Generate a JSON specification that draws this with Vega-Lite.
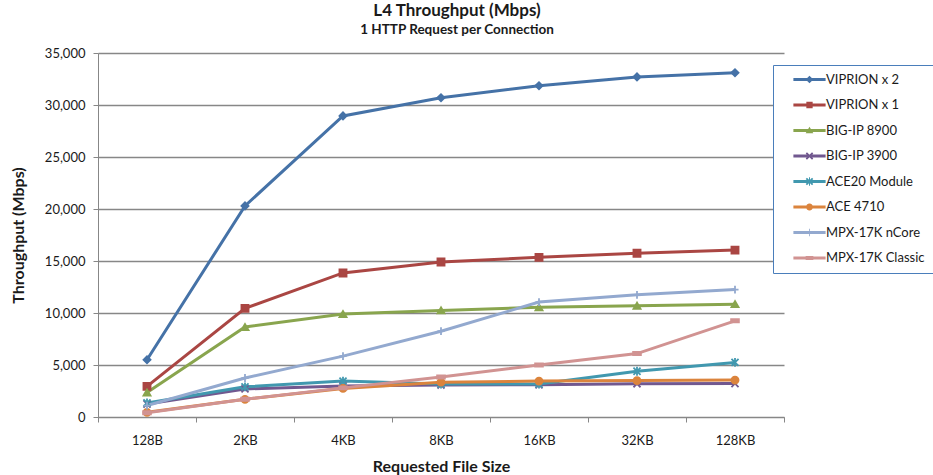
{
  "$schema": "https://vega.github.io/schema/vega-lite/v6.json",
  "autosize": {"type": "none"},
  "padding": {"left": 98, "top": 53, "right": 149, "bottom": 58},
  "width": 686,
  "height": 364,
  "background": "white",
  "title": {
    "text": "L4 Throughput (Mbps)",
    "subtitle": "1 HTTP Request per Connection",
    "anchor": "middle",
    "dx": 16,
    "offset": 10,
    "font": "Lato",
    "fontSize": 17,
    "fontWeight": "bold",
    "color": "#1a1a1a",
    "subtitleFont": "Lato",
    "subtitleFontSize": 13.5,
    "subtitleFontWeight": "bold",
    "subtitleColor": "#1a1a1a",
    "subtitlePadding": 3
  },
  "data": {
    "values": [
      {"series": "VIPRION x 2", "size": "128B", "value": 5500},
      {"series": "VIPRION x 2", "size": "2KB", "value": 20300},
      {"series": "VIPRION x 2", "size": "4KB", "value": 28950},
      {"series": "VIPRION x 2", "size": "8KB", "value": 30700},
      {"series": "VIPRION x 2", "size": "16KB", "value": 31850},
      {"series": "VIPRION x 2", "size": "32KB", "value": 32700},
      {"series": "VIPRION x 2", "size": "128KB", "value": 33100},
      {"series": "VIPRION x 1", "size": "128B", "value": 2950},
      {"series": "VIPRION x 1", "size": "2KB", "value": 10450},
      {"series": "VIPRION x 1", "size": "4KB", "value": 13850},
      {"series": "VIPRION x 1", "size": "8KB", "value": 14900},
      {"series": "VIPRION x 1", "size": "16KB", "value": 15350},
      {"series": "VIPRION x 1", "size": "32KB", "value": 15750},
      {"series": "VIPRION x 1", "size": "128KB", "value": 16050},
      {"series": "BIG-IP 8900", "size": "128B", "value": 2350},
      {"series": "BIG-IP 8900", "size": "2KB", "value": 8650},
      {"series": "BIG-IP 8900", "size": "4KB", "value": 9900},
      {"series": "BIG-IP 8900", "size": "8KB", "value": 10250},
      {"series": "BIG-IP 8900", "size": "16KB", "value": 10550},
      {"series": "BIG-IP 8900", "size": "32KB", "value": 10700},
      {"series": "BIG-IP 8900", "size": "128KB", "value": 10850},
      {"series": "BIG-IP 3900", "size": "128B", "value": 1250},
      {"series": "BIG-IP 3900", "size": "2KB", "value": 2700},
      {"series": "BIG-IP 3900", "size": "4KB", "value": 2980},
      {"series": "BIG-IP 3900", "size": "8KB", "value": 3080},
      {"series": "BIG-IP 3900", "size": "16KB", "value": 3100},
      {"series": "BIG-IP 3900", "size": "32KB", "value": 3200},
      {"series": "BIG-IP 3900", "size": "128KB", "value": 3220},
      {"series": "ACE20 Module", "size": "128B", "value": 1350},
      {"series": "ACE20 Module", "size": "2KB", "value": 2900},
      {"series": "ACE20 Module", "size": "4KB", "value": 3450},
      {"series": "ACE20 Module", "size": "8KB", "value": 3170},
      {"series": "ACE20 Module", "size": "16KB", "value": 3170},
      {"series": "ACE20 Module", "size": "32KB", "value": 4400},
      {"series": "ACE20 Module", "size": "128KB", "value": 5250},
      {"series": "ACE 4710", "size": "128B", "value": 450},
      {"series": "ACE 4710", "size": "2KB", "value": 1700},
      {"series": "ACE 4710", "size": "4KB", "value": 2750},
      {"series": "ACE 4710", "size": "8KB", "value": 3350},
      {"series": "ACE 4710", "size": "16KB", "value": 3450},
      {"series": "ACE 4710", "size": "32KB", "value": 3500},
      {"series": "ACE 4710", "size": "128KB", "value": 3550},
      {"series": "MPX-17K nCore", "size": "128B", "value": 1100},
      {"series": "MPX-17K nCore", "size": "2KB", "value": 3750},
      {"series": "MPX-17K nCore", "size": "4KB", "value": 5850},
      {"series": "MPX-17K nCore", "size": "8KB", "value": 8250},
      {"series": "MPX-17K nCore", "size": "16KB", "value": 11050},
      {"series": "MPX-17K nCore", "size": "32KB", "value": 11750},
      {"series": "MPX-17K nCore", "size": "128KB", "value": 12250},
      {"series": "MPX-17K Classic", "size": "128B", "value": 400},
      {"series": "MPX-17K Classic", "size": "2KB", "value": 1700},
      {"series": "MPX-17K Classic", "size": "4KB", "value": 2800},
      {"series": "MPX-17K Classic", "size": "8KB", "value": 3850},
      {"series": "MPX-17K Classic", "size": "16KB", "value": 5000},
      {"series": "MPX-17K Classic", "size": "32KB", "value": 6100},
      {"series": "MPX-17K Classic", "size": "128KB", "value": 9250}
    ]
  },
  "encoding": {
    "x": {
      "field": "size",
      "type": "ordinal",
      "bandPosition": 0.5,
      "sort": ["128B", "2KB", "4KB", "8KB", "16KB", "32KB", "128KB"],
      "scale": {"type": "band", "paddingInner": 0, "paddingOuter": 0},
      "axis": {
        "title": "Requested File Size",
        "labelAngle": 0,
        "tickBand": "extent",
        "tickSize": 5,
        "labelPadding": 12,
        "titlePadding": 11,
        "domainColor": "#878787",
        "tickColor": "#878787",
        "grid": false
      }
    },
    "y": {
      "field": "value",
      "type": "quantitative",
      "scale": {"domain": [0, 35000], "nice": false},
      "axis": {
        "title": "Throughput (Mbps)",
        "values": [0, 5000, 10000, 15000, 20000, 25000, 30000, 35000],
        "format": ",d",
        "tickSize": 5,
        "labelPadding": 8,
        "titlePadding": 18,
        "grid": true,
        "gridColor": "#878787",
        "gridWidth": 1.3,
        "domainColor": "#878787",
        "tickColor": "#878787"
      }
    }
  },
  "layer": [
    {
      "mark": {"type": "line", "strokeWidth": 3},
      "encoding": {
        "stroke": {
          "field": "series",
          "type": "nominal",
          "scale": {
            "domain": ["VIPRION x 2", "VIPRION x 1", "BIG-IP 8900", "BIG-IP 3900", "ACE20 Module", "ACE 4710", "MPX-17K nCore", "MPX-17K Classic"],
            "range": ["#4572A7", "#AA4643", "#89A54E", "#71588F", "#4198AF", "#DB843D", "#93A9CF", "#D19392"]
          },
          "legend": null
        }
      }
    },
    {
      "mark": {"type": "point", "filled": true, "size": 50, "strokeWidth": 1.8, "opacity": 1},
      "encoding": {
        "fill": {
          "field": "series",
          "type": "nominal",
          "scale": {
            "domain": ["VIPRION x 2", "VIPRION x 1", "BIG-IP 8900", "BIG-IP 3900", "ACE20 Module", "ACE 4710", "MPX-17K nCore", "MPX-17K Classic"],
            "range": ["#4572A7", "#AA4643", "#89A54E", "#71588F", "#4198AF", "#DB843D", "#93A9CF", "#D19392"]
          },
          "legend": null
        },
        "stroke": {
          "field": "series",
          "type": "nominal",
          "legend": null
        },
        "shape": {
          "field": "series",
          "type": "nominal",
          "scale": {
            "domain": ["VIPRION x 2", "VIPRION x 1", "BIG-IP 8900", "BIG-IP 3900", "ACE20 Module", "ACE 4710", "MPX-17K nCore", "MPX-17K Classic"],
            "range": ["diamond", "square", "triangle-up", "M-1,-1L1,1M-1,1L1,-1", "M-1,-1L1,1M-1,1L1,-1M0,-1.25L0,1.25", "circle", "M-1,0L1,0M0,-1.1L0,1.1", "M-1.1,-0.45L1.1,-0.45L1.1,0.45L-1.1,0.45Z"]
          },
          "legend": null
        }
      }
    },
    {
      "mark": {"type": "point", "filled": true, "size": 10, "opacity": 0},
      "encoding": {
        "color": {
          "field": "series",
          "type": "nominal",
          "scale": {
            "domain": ["VIPRION x 2", "VIPRION x 1", "BIG-IP 8900", "BIG-IP 3900", "ACE20 Module", "ACE 4710", "MPX-17K nCore", "MPX-17K Classic"],
            "range": ["#4572A7", "#AA4643", "#89A54E", "#71588F", "#4198AF", "#DB843D", "#93A9CF", "#D19392"]
          },
          "legend": {
            "title": null,
            "orient": "none",
            "legendX": 675,
            "legendY": 12,
            "padding": 8,
            "symbolSize": 49,
            "symbolOffset": 22,
            "symbolOpacity": 1,
            "symbolStrokeWidth": 0,
            "labelOffset": 10,
            "rowPadding": 11.5,
            "labelFont": "Lato",
            "labelFontSize": 13,
            "labelColor": "#1a1a1a",
            "labelLimit": 200,
            "strokeColor": "#4A7EBB",
            "fillColor": "white"
          }
        },
        "shape": {
          "field": "series",
          "type": "nominal",
          "scale": {
            "domain": ["VIPRION x 2", "VIPRION x 1", "BIG-IP 8900", "BIG-IP 3900", "ACE20 Module", "ACE 4710", "MPX-17K nCore", "MPX-17K Classic"],
            "range": [
              "M-4.6,-0.42L4.6,-0.42L4.6,0.42L-4.6,0.42ZM0,-1.1L1.1,0L0,1.1L-1.1,0Z",
              "M-4.6,-0.42L4.6,-0.42L4.6,0.42L-4.6,0.42ZM-0.9,-0.9L0.9,-0.9L0.9,0.9L-0.9,0.9Z",
              "M-4.6,-0.42L4.6,-0.42L4.6,0.42L-4.6,0.42ZM0,-1.1L1.1,0.8L-1.1,0.8Z",
              "M-4.6,-0.42L4.6,-0.42L4.6,0.42L-4.6,0.42ZM-0.72,-1.08L1.08,0.72L0.72,1.08L-1.08,-0.72ZM-1.08,0.72L0.72,-1.08L1.08,-0.72L-0.72,1.08Z",
              "M-4.6,-0.42L4.6,-0.42L4.6,0.42L-4.6,0.42ZM-0.72,-1.08L1.08,0.72L0.72,1.08L-1.08,-0.72ZM-1.08,0.72L0.72,-1.08L1.08,-0.72L-0.72,1.08ZM-0.14,-1.2L0.14,-1.2L0.14,1.2L-0.14,1.2Z",
              "M-4.6,-0.42L4.6,-0.42L4.6,0.42L-4.6,0.42ZM1,0A1,1,0,1,1,-1,0A1,1,0,1,1,1,0Z",
              "M-4.6,-0.42L4.6,-0.42L4.6,0.42L-4.6,0.42ZM-0.12,-1.1L0.12,-1.1L0.12,1.1L-0.12,1.1Z",
              "M-4.6,-0.42L4.6,-0.42L4.6,0.42L-4.6,0.42ZM-1.1,-0.55L1.1,-0.55L1.1,0.55L-1.1,0.55Z"
            ]
          },
          "legend": {
            "title": null,
            "orient": "none",
            "legendX": 675,
            "legendY": 12,
            "padding": 8,
            "symbolSize": 49,
            "symbolOffset": 22,
            "symbolOpacity": 1,
            "symbolStrokeWidth": 0,
            "labelOffset": 10,
            "rowPadding": 11.5,
            "labelFont": "Lato",
            "labelFontSize": 13,
            "labelColor": "#1a1a1a",
            "labelLimit": 200,
            "strokeColor": "#4A7EBB",
            "fillColor": "white"
          }
        }
      }
    }
  ],
  "resolve": {"scale": {"shape": "independent", "color": "independent"}},
  "config": {
    "view": {"stroke": null},
    "font": "Lato",
    "axis": {
      "labelFont": "Lato",
      "labelFontSize": 13,
      "labelColor": "#1a1a1a",
      "titleFont": "Lato",
      "titleFontSize": 16,
      "titleFontWeight": "bold",
      "titleColor": "#1a1a1a"
    }
  }
}
